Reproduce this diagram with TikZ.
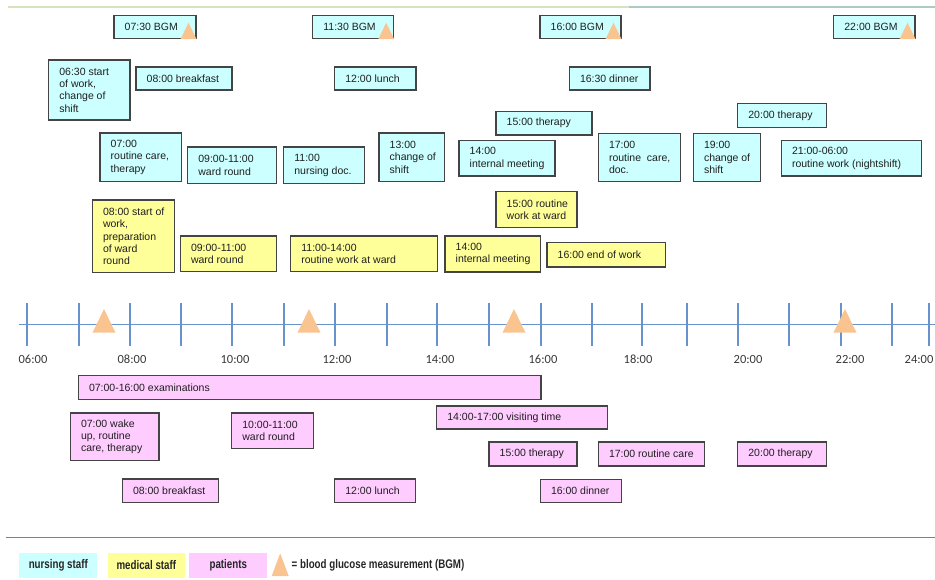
\documentclass[tikz,border=0pt]{standalone}
\usepackage{fontspec}
\setmainfont{Liberation Sans}
\newfontfamily\axisfont{Carlito}
\newfontfamily\legendfont[FakeStretch=0.78]{Liberation Sans}
\usetikzlibrary{fit}

\definecolor{nurse}{HTML}{CCFFFF}
\definecolor{medic}{HTML}{FFFF99}
\definecolor{patient}{HTML}{FFCCFF}
\definecolor{bgm}{RGB}{250,196,145}
\definecolor{axisblue}{RGB}{104,146,204}
\definecolor{boxframe}{HTML}{444444}
\definecolor{rulegreen}{RGB}{214,228,190}
\definecolor{ruleteal}{RGB}{172,202,190}

\tikzset{
  evbox/.style={draw=boxframe, line width=1.15pt, inner sep=0pt, outer sep=0pt},
  nursebox/.style={evbox, fill=nurse},
  medbox/.style={evbox, fill=medic},
  patbox/.style={evbox, fill=patient},
  evtext/.style={inner sep=0pt, align=left, anchor=west,
    font=\fontsize{10.5}{12.4}\selectfont, text=black!88},
  bgmmark/.style={fill=bgm, draw=none},
  axisline/.style={draw=axisblue, line width=1.3pt},
  axislabel/.style={inner sep=0pt, font=\axisfont\fontsize{12.5}{14}\selectfont, text=black!78},
  legendbox/.style={inner sep=0pt, outer sep=0pt, anchor=north west,
    font=\legendfont\bfseries\fontsize{12.5}{14}\selectfont, text=black!85},
  legendtext/.style={inner sep=0pt, anchor=west,
    font=\legendfont\bfseries\fontsize{12.5}{14}\selectfont, text=black!85},
  sepline/.style={draw=black!50, line width=1.5pt},
}

% one event: style, name, top-left corner, bottom-right corner, text
\newcommand\evt[5]{%
  \node[#1, fit={(#3) (#4)}] (#2) {};
  \node[evtext] (#2-txt) at ([xshift=10.5pt]#2.west) {#5};
}
% glucose marker in the lower right corner of an event box
\newcommand\bgmcorner[1]{%
  \fill[bgmmark] ([xshift=-15.5pt,yshift=-0.5pt]#1.south east) -- ([xshift=0.5pt,yshift=-0.5pt]#1.south east)
    -- ([xshift=-7.5pt,yshift=16pt]#1.south east) -- cycle;
}

\begin{document}
\begin{tikzpicture}[x=1pt, y=-1pt]
\useasboundingbox (0,0) rectangle (935,579);

% faint rule along the top
\draw[rulegreen, line width=1.2pt] (8,7) -- (629,7);
\draw[ruleteal, line width=1.2pt] (629,7) -- (935,7);

% ---------- nursing staff ----------
\evt{nursebox}{n1}{114,15.7}{196,38.7}{07:30 BGM}
\bgmcorner{n1}
\evt{nursebox}{n2}{312.7,15.7}{393.7,38.7}{11:30 BGM}
\bgmcorner{n2}
\evt{nursebox}{n3}{540,15.7}{621,38.7}{16:00 BGM}
\bgmcorner{n3}
\evt{nursebox}{n4}{833.7,15.7}{915,38.7}{22:00 BGM}
\bgmcorner{n4}
\evt{nursebox}{n5}{48.7,60}{130,120}{06:30 start\\of work,\\change of\\shift}
\evt{nursebox}{n6}{136,67}{232,90}{08:00 breakfast}
\evt{nursebox}{n7}{334.7,67}{416,90}{12:00 lunch}
\evt{nursebox}{n8}{569.3,67}{650,90}{16:30 dinner}
\evt{nursebox}{n9}{496,111.3}{592,135}{15:00 therapy}
\evt{nursebox}{n10}{737.7,103.3}{826.3,127.3}{20:00 therapy}
\evt{nursebox}{n11}{100,133}{181.7,181.7}{07:00\\routine care,\\therapy}
\evt{nursebox}{n12}{187.7,147}{276.7,183.7}{09:00-11:00\\ward round}
\evt{nursebox}{n13}{283.7,147}{364.7,183.7}{11:00\\nursing doc.}
\evt{nursebox}{n14}{379,133}{444.7,181.7}{13:00\\change of\\shift}
\evt{nursebox}{n15}{459,140.7}{555,176}{14:00\\internal meeting}
\evt{nursebox}{n16}{598.3,133.3}{680.3,181.7}{17:00\\routine~ care,\\doc.}
\evt{nursebox}{n17}{693.3,133.3}{760.3,181.7}{19:00\\change of\\shift}
\evt{nursebox}{n18}{781.3,140.7}{921.7,176}{21:00-06:00\\routine work (nightshift)}

% ---------- medical staff ----------
\evt{medbox}{m1}{92.3,200}{174.3,272.7}{08:00 start of\\work,\\preparation\\of ward\\round}
\evt{medbox}{m2}{180.3,236}{276.7,271.7}{09:00-11:00\\ward round}
\evt{medbox}{m3}{290.7,236}{437.7,271.7}{11:00-14:00\\routine work at ward}
\evt{medbox}{m4}{445,236}{540.7,272}{14:00\\internal meeting}
\evt{medbox}{m5}{496,191.7}{577,227.3}{15:00 routine\\work at ward}
\evt{medbox}{m6}{547,242.7}{665.3,267}{16:00 end of work}

% ---------- time axis ----------
\draw[axisline] (19,324.3) -- (935,324.3);
\foreach \x in {27,79,130,181,232,284,335,387,437,489,541,592,642,687,738,789,841,892,929}
  \draw[axisline] (\x,303) -- (\x,346);
\foreach \x in {104,309,514,845}
  \fill[bgmmark] (\x-11.5,332.7) -- (\x+11.5,332.7) -- (\x,309) -- cycle;
\foreach \h/\x in {06/33,08/132,10/235,12/337,14/440,16/543,18/638,20/748,22/850,24/919}
  \node[axislabel] (hour\h) at (\x,359) {\h:00};

% ---------- patients ----------
\evt{patbox}{p1}{78.3,375.7}{541,399.3}{07:00-16:00 examinations}
\evt{patbox}{p2}{70.3,413}{159,460.7}{07:00 wake\\up, routine\\care, therapy}
\evt{patbox}{p3}{231.7,413}{313.3,448.7}{10:00-11:00\\ward round}
\evt{patbox}{p4}{436.7,406}{607.3,429}{14:00-17:00 visiting time}
\evt{patbox}{p5}{122.3,479}{218.3,502.3}{08:00 breakfast}
\evt{patbox}{p6}{334.7,479}{415.7,502.3}{12:00 lunch}
\evt{patbox}{p7}{489,442}{577,466}{15:00 therapy}
\evt{patbox}{p8}{598.3,442}{704.3,466}{17:00 routine care}
\evt{patbox}{p9}{737.7,442}{826.7,466}{20:00 therapy}
\evt{patbox}{p10}{540.3,479.3}{621.3,502.3}{16:00 dinner}

% ---------- legend ----------
\draw[sepline] (6,537.7) -- (935,537.7);
\node[legendbox, fill=nurse, minimum width=78pt, minimum height=25.6pt] (lg-nurse) at (19.3,552.7) {nursing staff};
\node[legendbox, fill=medic, minimum width=76.7pt, minimum height=25.6pt] (lg-medic) at (108,552.7) {medical staff};
\node[legendbox, fill=patient, minimum width=78pt, minimum height=25.6pt] (lg-patient) at (189.3,552.7) {patients};
\fill[bgmmark] (271.7,576) -- (288.7,576) -- (280.2,553.3) -- cycle;
\node[legendtext] (lg-bgm) at (291.5,565.5) {= blood glucose measurement (BGM)};
\end{tikzpicture}
\end{document}
